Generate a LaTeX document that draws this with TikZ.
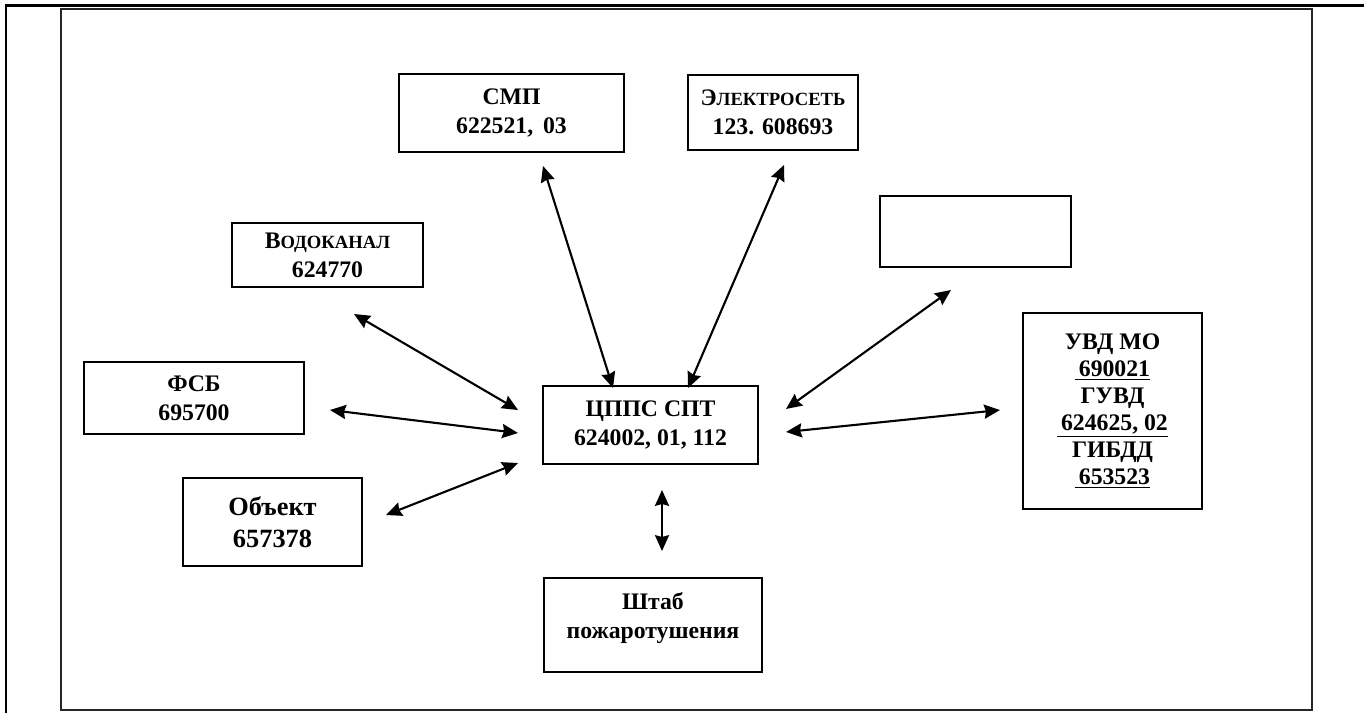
\documentclass[tikz,border=0pt]{standalone}
\usepackage{fontspec}
\setmainfont{Liberation Serif}
\usepackage{tikz}
\usetikzlibrary{arrows.meta}

\newcommand{\smallcyr}[1]{{\fontsize{10.6}{16.4}\selectfont #1}}

\begin{document}
\begin{tikzpicture}[
    x=0.02cm, y=-0.02cm,
    box/.style={rectangle, draw, line width=1.1pt, align=center, inner sep=0pt, font=\fontsize{13.5}{16.4}\selectfont\bfseries},
    arrow/.style={{Stealth[length=9pt,width=8pt,inset=1pt]}-{Stealth[length=9pt,width=8pt,inset=1pt]}, line width=1.2pt}
]

\useasboundingbox (0,0) rectangle (1364,713);

% Frame of the cell
\draw[line width=1.4pt] (5,5.5) -- (1364,5.5);
\draw[line width=1.4pt] (6,5) -- (6,713);
\draw[line width=1.1pt, black!85] (61,9) rectangle (1312,710);

% Central node
\node[box, minimum width=4.3cm, minimum height=1.56cm] (cpps) at (650.5,425) {ЦППС СПТ\\624002, 01, 112};

% Top
\node[box, minimum width=4.5cm, minimum height=1.56cm] (smp) at (511.5,113) {СМП\\622521,\ \,03};
\node[box, minimum width=3.4cm, minimum height=1.5cm] (elektroset) at (773,112.5) {Э\smallcyr{ЛЕКТРОСЕТЬ}\\123. 608693};

% Left
\node[box, minimum width=3.82cm, minimum height=1.28cm] (vodokanal) at (327.5,255) {В\smallcyr{ОДОКАНАЛ}\\624770};
\node[box, minimum width=4.4cm, minimum height=1.44cm] (fsb) at (194,398) {ФСБ\\695700};
\node[box, minimum width=3.58cm, minimum height=1.76cm, font=\fontsize{15}{18}\selectfont\bfseries] (obekt) at (272.5,522) {Объект\\657378};

% Right
\node[box, minimum width=3.82cm, minimum height=1.42cm] (blank) at (975.5,231.5) {};
\node[box, minimum width=3.58cm, minimum height=3.92cm, font=\fontsize{13.5}{15.3}\selectfont\bfseries] (uvd) at (1112.5,411)
    {УВД МО\\\underline{\,690021}\\ГУВД\\\underline{\,624625, 02}\\ГИБДД\\\underline{\,653523}};

% Bottom
\node[box, minimum width=4.36cm, minimum height=1.88cm, text depth=11pt] (shtab) at (653,625) {Штаб\\пожаротушения};

% Arrow ends
\coordinate (smp-a) at (543,166);
\coordinate (smp-b) at (613,388);
\coordinate (elektroset-a) at (784,165);
\coordinate (elektroset-b) at (688,388);
\coordinate (blank-a) at (951,290);
\coordinate (blank-b) at (786,409);
\coordinate (vodokanal-a) at (354,314);
\coordinate (vodokanal-b) at (518,410);
\coordinate (fsb-a) at (330,410);
\coordinate (fsb-b) at (518,433);
\coordinate (obekt-a) at (386,515);
\coordinate (obekt-b) at (518,463);
\coordinate (uvd-a) at (1000,410);
\coordinate (uvd-b) at (786,432);
\coordinate (shtab-a) at (662,551);
\coordinate (shtab-b) at (662,490);

% Arrows
\draw[arrow] (smp-a) -- (smp-b);
\draw[arrow] (elektroset-a) -- (elektroset-b);
\draw[arrow] (blank-a) -- (blank-b);
\draw[arrow] (vodokanal-a) -- (vodokanal-b);
\draw[arrow] (fsb-a) -- (fsb-b);
\draw[arrow] (obekt-a) -- (obekt-b);
\draw[arrow] (uvd-a) -- (uvd-b);
\draw[arrow] (shtab-a) -- (shtab-b);

\end{tikzpicture}
\end{document}
